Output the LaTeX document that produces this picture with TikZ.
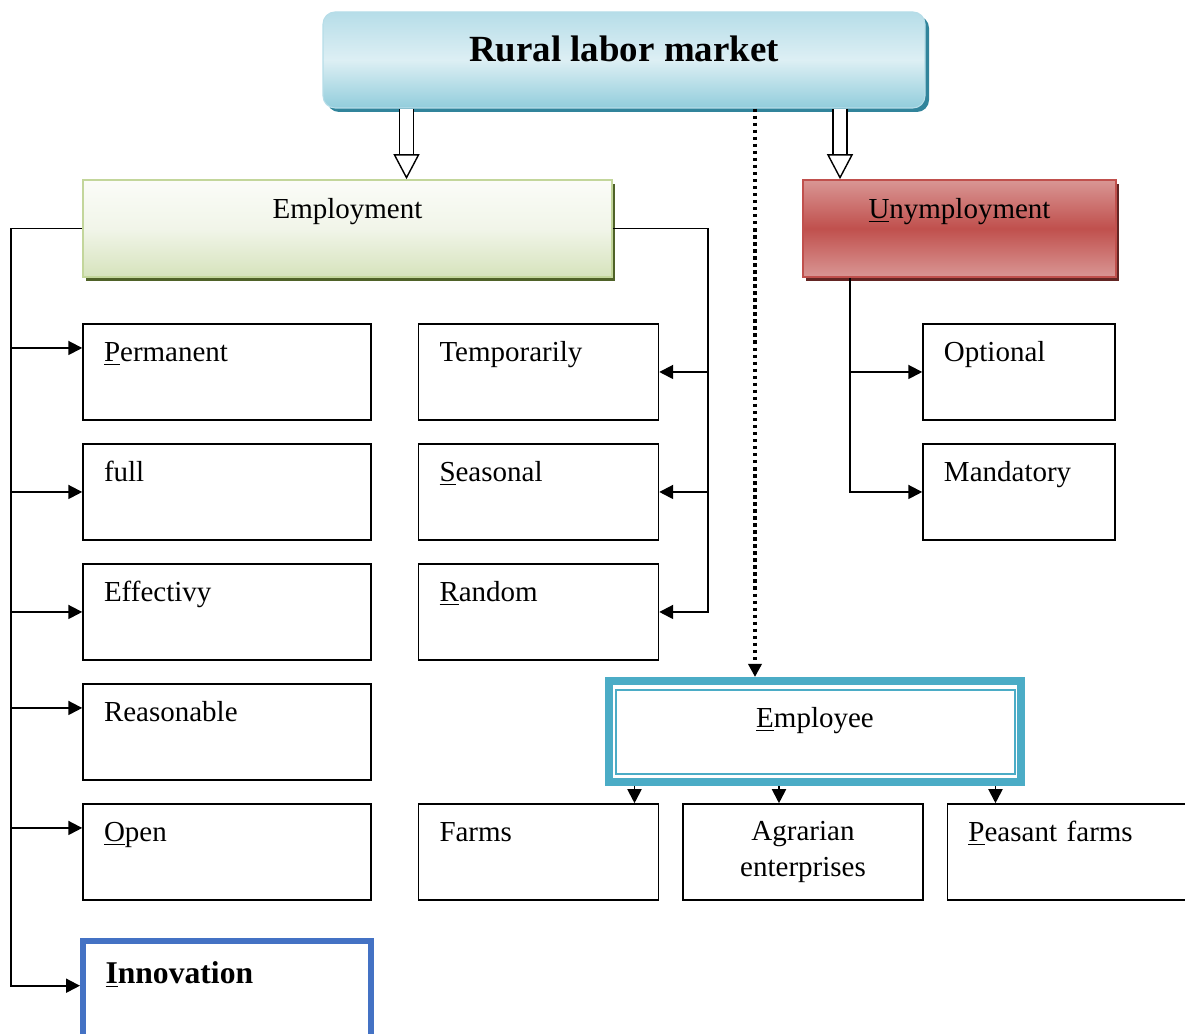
\documentclass[tikz,border=0pt]{standalone}
\usepackage{fontspec}
\setmainfont{Liberation Serif}
\usetikzlibrary{arrows.meta, positioning, calc, shadows}
\definecolor{ttlLight}{HTML}{DDEFF4}
\definecolor{ttlMid}{HTML}{B6DDE8}
\definecolor{ttlDark}{HTML}{92CDDC}
\definecolor{ttlShadow}{HTML}{31849B}
\definecolor{emplTop}{HTML}{FBFCF8}
\definecolor{emplMid}{HTML}{F1F5E9}
\definecolor{emplBot}{HTML}{D6E3BC}
\definecolor{emplEdge}{HTML}{C3D69B}
\definecolor{emplShadow}{HTML}{4F6228}
\definecolor{unemLight}{HTML}{D99694}
\definecolor{unemDark}{HTML}{C0504D}
\definecolor{unemShadow}{HTML}{632523}
\definecolor{empTeal}{HTML}{4BACC6}
\definecolor{innoBlue}{HTML}{4472C4}

\begin{document}
\begin{tikzpicture}[
  node distance=0.45cm and 0.92cm,
  every node/.style={font=\fontsize{16.5}{20}\selectfont},
  cellL/.style={draw, line width=0.85pt, inner xsep=0.42cm, inner ysep=0pt,
    text height=0.76cm, text depth=1.16cm, text width=4.92cm, align=left},
  cellM/.style={cellL, text width=3.96cm},
  cellR/.style={cellL, text width=3.0cm},
  cellA/.style={draw, line width=0.85pt, inner sep=0pt,
    minimum width=4.8cm, minimum height=1.92cm, align=center},
  ttlbox/.style={rounded corners=0.24cm, draw=ttlMid, line width=0.6pt,
    minimum width=12.04cm, inner sep=0pt, text height=1.0cm, text depth=0.92cm,
    top color=ttlMid, bottom color=ttlDark, middle color=ttlLight,
    drop shadow={shadow xshift=0.08cm, shadow yshift=-0.08cm, fill=ttlShadow, opacity=1},
    font=\fontsize{21}{25}\selectfont\bfseries},
  emplbox/.style={draw=emplEdge, line width=0.9pt, minimum width=10.58cm,
    inner sep=0pt, text height=0.78cm, text depth=1.16cm,
    top color=emplTop, bottom color=emplBot, middle color=emplMid,
    drop shadow={shadow xshift=0.06cm, shadow yshift=-0.08cm, fill=emplShadow, opacity=1}},
  unembox/.style={emplbox, draw=unemDark, minimum width=6.26cm,
    top color=unemLight, bottom color=unemLight, middle color=unemDark,
    drop shadow={shadow xshift=0.06cm, shadow yshift=-0.08cm, fill=unemShadow, opacity=1}},
  empbox/.style={draw=empTeal, line width=0.16cm, minimum width=8.24cm,
    inner sep=0pt, text height=0.94cm, text depth=1.08cm},
  innobox/.style={cellL, draw=innoBlue, line width=0.12cm, inner xsep=0.45cm,
    text width=4.86cm, text height=0.86cm, text depth=1.06cm,
    font=\fontsize{18}{22}\selectfont\bfseries},
  conn/.style={line width=1.1pt},
  arrow/.style={conn, -{Triangle[length=0.28cm, width=0.28cm]}},
  hollow/.style={line width=0.8pt, double, double distance=0.25cm,
    -{Triangle[open, length=0.5cm, width=0.52cm]}},
  dotarrow/.style={line width=2pt, dash pattern=on 2pt off 2pt,
    -{Triangle[length=0.26cm, width=0.26cm]}},
]
\useasboundingbox (0,0) rectangle (23.7,20.68);

% ---- Top level ----
\node[ttlbox] (ttl) at (12.48,19.48) {Rural labor market};
\node[emplbox] (empl) at (6.95,16.11) {Employment};
\node[unembox] (unem) at (19.19,16.11) {\underline{U}nymployment};

\coordinate (hl) at (8.13,0);
\coordinate (hr) at (16.8,0);
\draw[hollow] (ttl.south -| hl) -- (empl.north -| hl);
\draw[hollow] (ttl.south -| hr) -- (unem.north -| hr);

% ---- Left column ----
\node[cellL] (perm) at (4.54,13.24) {\underline{P}ermanent};
\node[cellL, below=of perm] (full) {full};
\node[cellL, below=of full] (eff) {Effectivy};
\node[cellL, below=of eff] (reas) {Reasonable};
\node[cellL, below=of reas] (open) {\underline{O}pen};
\node[innobox, below=0.74cm of open] (innov) {\underline{I}nnovation};

% ---- Middle column ----
\node[cellM, right=of perm] (temp) {Temporarily};
\node[cellM, below=of temp] (seas) {\underline{S}easonal};
\node[cellM, below=of seas] (rand) {\underline{R}andom};

% ---- Right column ----
\node[cellR, right=5.26cm of temp] (opt) {Optional};
\node[cellR, below=of opt] (mand) {Mandatory};

% ---- Employee and its kinds ----
\node[empbox] (emp) at (16.3,6.05) {\underline{E}mployee};
\draw[empTeal, line width=0.04cm]
  ([shift={(0.22,-0.26)}]emp.north west) rectangle ([shift={(-0.2,0.24)}]emp.south east);
\node[cellM, right=of open] (farms) {Farms};
\node[cellA, right=0.46cm of farms] (agr) {Agrarian\\enterprises};
\node[cellM, right=0.46cm of agr] (peas) {\underline{P}easant farms};

% Left trunk
\coordinate (lt) at ([xshift=-1.42cm]empl.west);
\draw[conn] (empl.west) -- (lt);
\draw[arrow] (lt) |- ([yshift=0.06cm]innov.west);
\path ([yshift=0.48cm]perm.west) coordinate (pa)
      ([yshift=0.48cm]reas.west) coordinate (ra)
      ([yshift=0.48cm]open.west) coordinate (oa);
\draw[arrow] (lt |- pa) -- (pa);
\draw[arrow] (lt |- full.west) -- (full.west);
\draw[arrow] (lt |- eff.west) -- (eff.west);
\draw[arrow] (lt |- ra) -- (ra);
\draw[arrow] (lt |- oa) -- (oa);

% Middle trunk
\coordinate (mt) at ([xshift=1.9cm]empl.east);
\draw[conn] (empl.east) -- (mt);
\draw[arrow] (mt) |- (rand.east);
\draw[arrow] (mt |- temp.east) -- (temp.east);
\draw[arrow] (mt |- seas.east) -- (seas.east);

% Unemployment trunk
\coordinate (ut) at ([xshift=0.96cm]unem.south west);
\draw[arrow] (ut) |- (mand.west);
\draw[arrow] (ut |- opt.west) -- (opt.west);

% Dotted link
\coordinate (dt) at ([xshift=2.62cm]ttl.south);
\draw[dotarrow] (dt) -- (dt |- emp.north);

% Employee arrows
\path ([xshift=1.92cm]farms.north) coordinate (fa)
      ([xshift=-0.48cm]agr.north) coordinate (aa)
      ([xshift=-1.44cm]peas.north) coordinate (qa);
\draw[arrow] (fa |- emp.south) -- (fa);
\draw[arrow] (aa |- emp.south) -- (aa);
\draw[arrow] (qa |- emp.south) -- (qa);

\end{tikzpicture}
\end{document}
